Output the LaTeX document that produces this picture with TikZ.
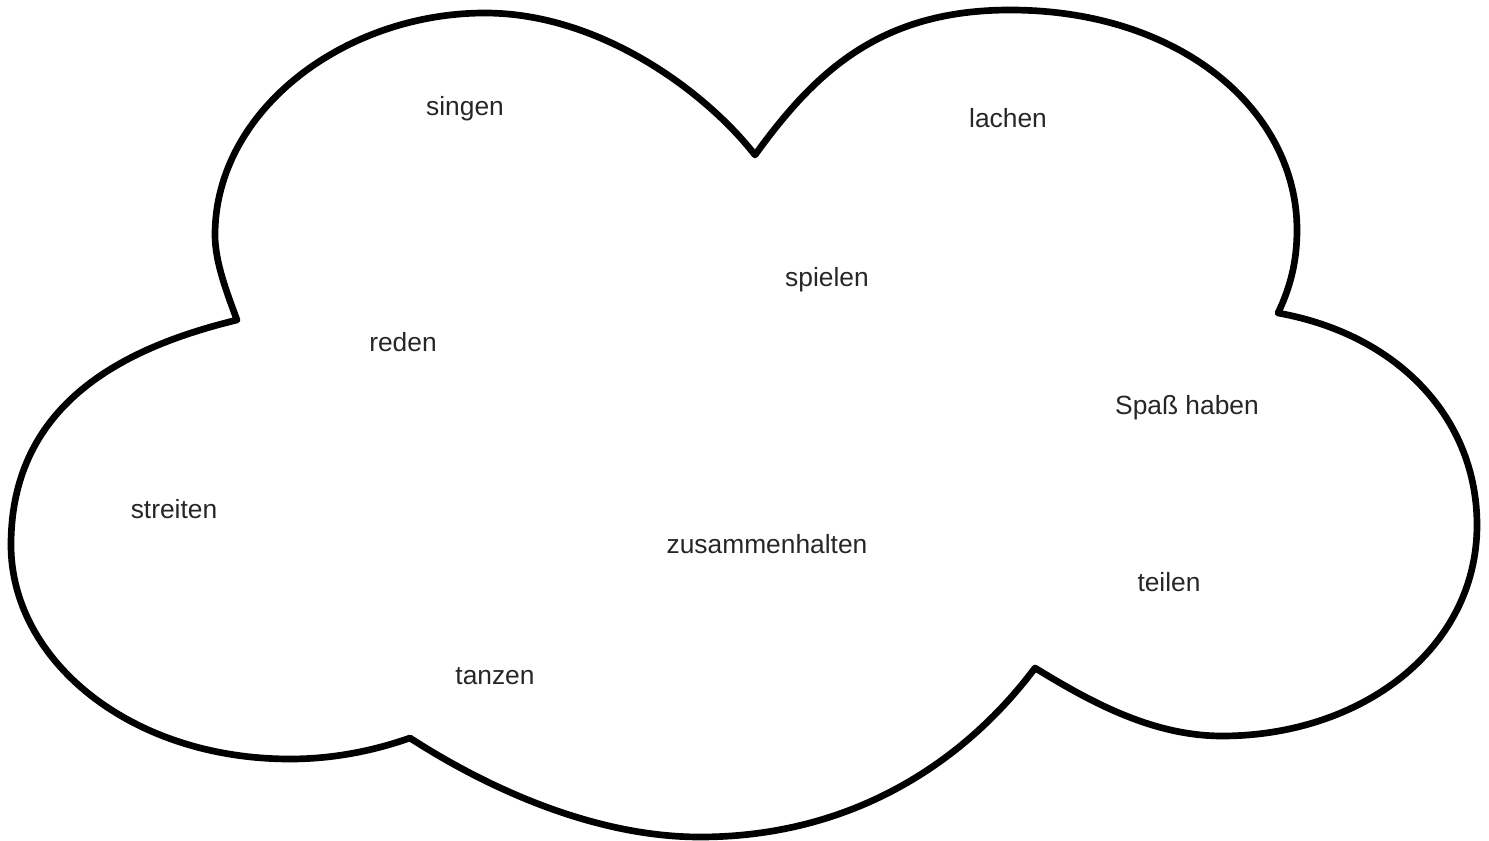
\documentclass[tikz,border=0pt]{standalone}
\usepackage{fontspec}
\setmainfont{Liberation Sans}

\begin{document}
\begin{tikzpicture}[x=0.02cm,y=-0.02cm,
  w/.style={font=\fontsize{15}{18}\selectfont,text=black!85,anchor=base,inner sep=0pt},
  cloud/.style={line width=3.8pt,line join=round}]
\useasboundingbox (0,0) rectangle (1489,841);
% cloud outline, lobe by lobe
\draw[cloud] (237,320)
  .. controls (227,293) and (215,262) .. (215,235)
  .. controls (215,110) and (345,13) .. (485,13)
  .. controls (600,13) and (706,92) .. (755,155)
  .. controls (815,72) and (880,10) .. (1010,10)
  .. controls (1180,10) and (1297,110) .. (1297,230)
  .. controls (1297,262) and (1290,288) .. (1278,313)
  .. controls (1400,335) and (1477,420) .. (1477,525)
  .. controls (1477,650) and (1360,736) .. (1222,736)
  .. controls (1150,736) and (1086,699) .. (1035,668)
  .. controls (963,764) and (850,837) .. (700,837)
  .. controls (590,837) and (481,784) .. (410,738)
  .. controls (370,752) and (330,759) .. (290,759)
  .. controls (130,759) and (11,660) .. (11,545)
  .. controls (11,400) and (130,346) .. (237,320)
  -- cycle;
% words
\node[w] (singen) at (465,116) {singen};
\node[w] (lachen) at (1008,128) {lachen};
\node[w] (spielen) at (827,287) {spielen};
\node[w] (reden) at (403,352) {reden};
\node[w] (spass) at (1187,415) {Spaß haben};
\node[w] (streiten) at (174,519) {streiten};
\node[w] (zusammen) at (767,553) {zusammenhalten};
\node[w] (teilen) at (1169,591) {teilen};
\node[w] (tanzen) at (495,684) {tanzen};
\end{tikzpicture}
\end{document}
